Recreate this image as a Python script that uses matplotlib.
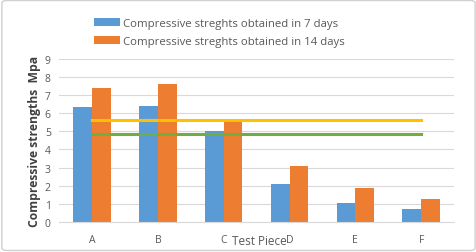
import matplotlib.pyplot as plt
import numpy as np
from matplotlib.patches import FancyBboxPatch

pieces = ["A", "B", "C", "D", "E", "F"]
days7 = [6.36, 6.38, 5.02, 2.08, 1.03, 0.70]
days14 = [7.41, 7.62, 5.60, 3.08, 1.86, 1.24]
line_yellow = [5.64, 5.64, 5.64, 5.64, 5.64, 5.64]
line_green = [4.87, 4.87, 4.87, 4.87, 4.87, 4.87]

plt.rcParams["font.family"] = ["Open Sans", "DejaVu Sans"]
fig = plt.figure(figsize=(4.77, 2.53), dpi=100)
ax = fig.add_axes([0.124, 0.119, 0.828, 0.644])

x = np.arange(len(pieces))
w = 0.285
b1 = ax.bar(x - w / 2, days7, w, color="#5B9BD5", zorder=2,
            label="Compressive streghts obtained in 7 days")
b2 = ax.bar(x + w / 2, days14, w, color="#ED7D31", zorder=2,
            label="Compressive streghts obtained in 14 days")
ax.plot(x, line_yellow, color="#FFC000", lw=2.2, zorder=3)
ax.plot(x, line_green, color="#70AD47", lw=2.2, zorder=3)

ax.set_xlim(-0.5, 5.5)
ax.set_ylim(0, 9)
ax.set_yticks(range(10))
ax.set_xticks(x)
ax.set_xticklabels(pieces)
ax.tick_params(length=0, labelsize=7.5, colors="#595959", pad=9)
ax.tick_params(axis="y", pad=6)
ax.yaxis.grid(True, color="#D9D9D9", lw=0.8, zorder=0)
for s in ["top", "right", "left"]:
    ax.spines[s].set_visible(False)
ax.spines["bottom"].set_color("#D9D9D9")

ax.set_ylabel("Compressive strengths  Mpa", fontsize=8.7, fontweight="bold",
              color="#404040", labelpad=3)
fig.text(0.543, 0.03, "Test Piece", fontsize=8.5, color="#595959", ha="center")

fig.legend(handles=[b1, b2], loc="upper left", bbox_to_anchor=(0.175, 0.965),
           frameon=False, fontsize=8.2, labelcolor="#595959",
           handlelength=2.3, handleheight=0.6, handletextpad=0.3,
           labelspacing=0.6)

fig.patches.append(FancyBboxPatch((0.004, 0.006), 0.992, 0.988,
                                  boxstyle="round,pad=0,rounding_size=0.01",
                                  transform=fig.transFigure, fill=False,
                                  ec="#D0D0D0", lw=1))
fig.savefig("out.png", dpi=100)
